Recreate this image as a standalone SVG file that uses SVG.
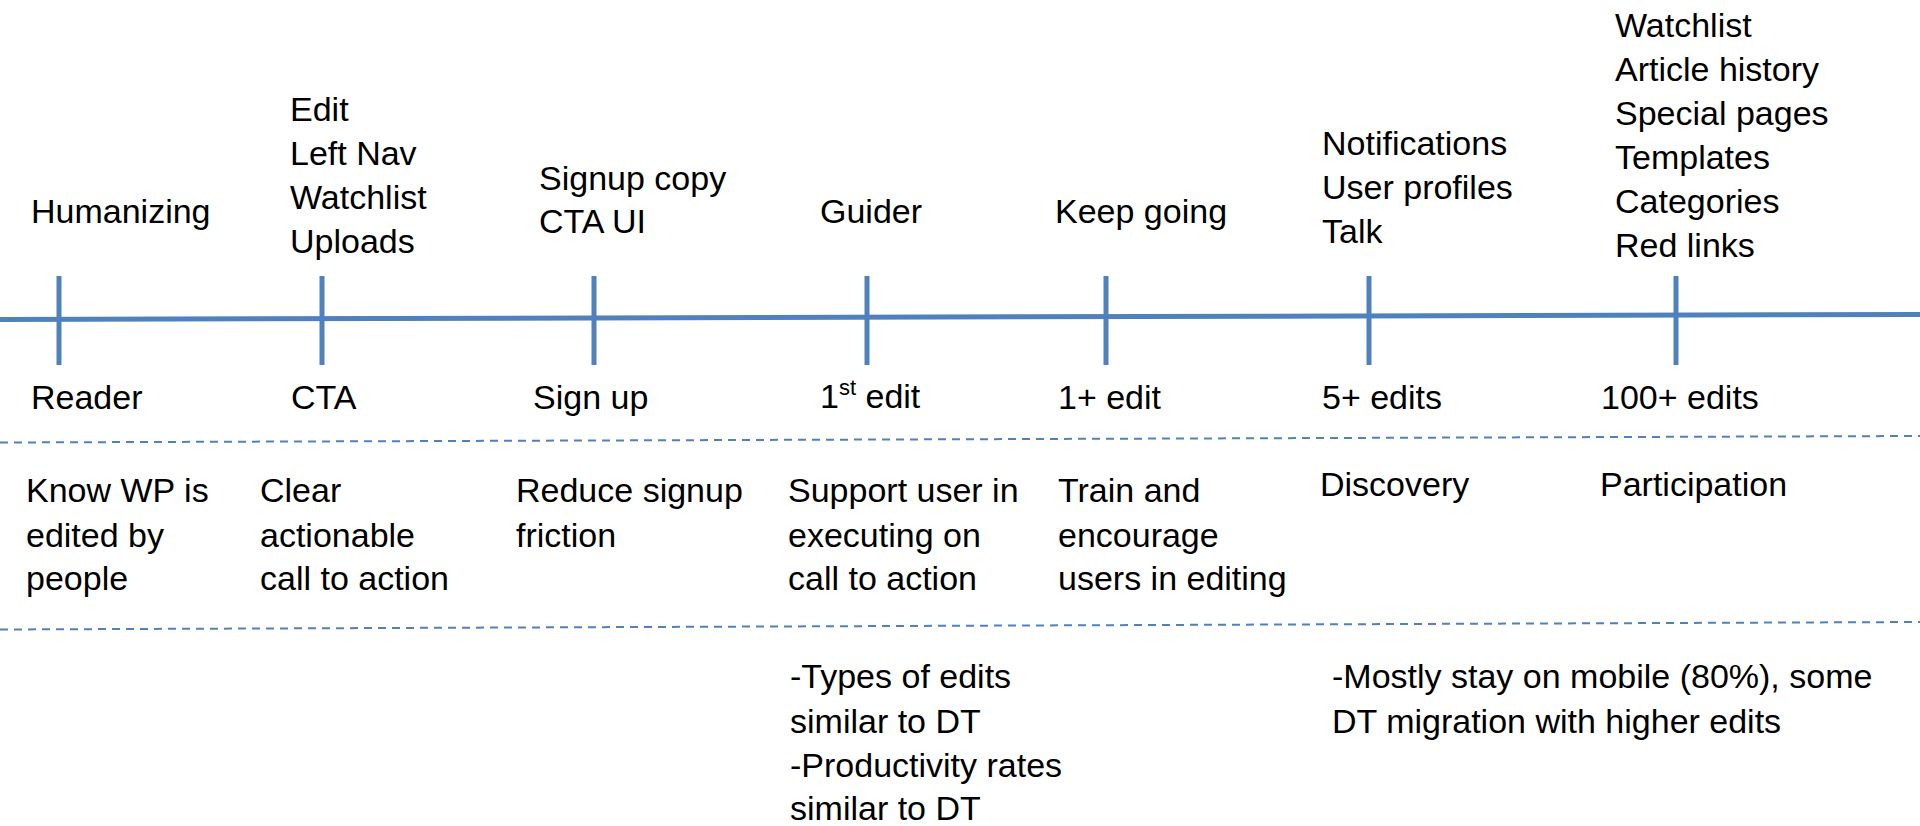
<svg xmlns="http://www.w3.org/2000/svg" width="1920" height="826" viewBox="0 0 1920 826">
<style>
text{font-family:"Liberation Sans",Arial,sans-serif;font-size:34px;fill:#000}
.axis{stroke:#4F81BD;stroke-width:5;fill:none}
.tick{stroke:#4F81BD;stroke-width:5;fill:none}
.dash{stroke:#4F81BD;stroke-width:2;stroke-dasharray:8 6;fill:none}
.sup{font-size:22px}
</style>
<rect width="1920" height="826" fill="#fff"/>
<g id="connectors">
<line class="axis" x1="0" y1="319.5" x2="1920" y2="314.5"/>
<line class="dash" x1="0" y1="442.5" x2="1920" y2="436"/>
<line class="dash" x1="0" y1="629.5" x2="1920" y2="622"/>
</g>
<g id="stage-reader">
<line class="tick" x1="59" y1="276" x2="59" y2="365"/>
<text x="31" y="223">Humanizing</text>
<text x="31" y="409">Reader</text>
<text x="26" y="502">Know WP is</text>
<text x="26" y="547">edited by</text>
<text x="26" y="590">people</text>
</g>
<g id="stage-cta">
<line class="tick" x1="322" y1="276" x2="322" y2="365"/>
<text x="290" y="121">Edit</text>
<text x="290" y="165">Left Nav</text>
<text x="290" y="209">Watchlist</text>
<text x="290" y="253">Uploads</text>
<text x="291" y="409">CTA</text>
<text x="260" y="502">Clear</text>
<text x="260" y="547">actionable</text>
<text x="260" y="590">call to action</text>
</g>
<g id="stage-signup">
<line class="tick" x1="594" y1="276" x2="594" y2="365"/>
<text x="539" y="190">Signup copy</text>
<text x="539" y="233">CTA UI</text>
<text x="533" y="409">Sign up</text>
<text x="516" y="502">Reduce signup</text>
<text x="516" y="547">friction</text>
</g>
<g id="stage-first-edit">
<line class="tick" x1="867" y1="276" x2="867" y2="365"/>
<text x="820" y="223">Guider</text>
<text x="820" y="408">1<tspan class="sup" dy="-13">st</tspan><tspan dy="13"> edit</tspan></text>
<text x="788" y="502">Support user in</text>
<text x="788" y="547">executing on</text>
<text x="788" y="590">call to action</text>
<text x="790" y="688">-Types of edits</text>
<text x="790" y="733">similar to DT</text>
<text x="790" y="777">-Productivity rates</text>
<text x="790" y="820">similar to DT</text>
</g>
<g id="stage-one-plus">
<line class="tick" x1="1106" y1="276" x2="1106" y2="365"/>
<text x="1055" y="223">Keep going</text>
<text x="1058" y="409">1+ edit</text>
<text x="1058" y="502">Train and</text>
<text x="1058" y="547">encourage</text>
<text x="1058" y="590">users in editing</text>
</g>
<g id="stage-five-plus">
<line class="tick" x1="1369" y1="276" x2="1369" y2="365"/>
<text x="1322" y="155">Notifications</text>
<text x="1322" y="199">User profiles</text>
<text x="1322" y="243">Talk</text>
<text x="1322" y="409">5+ edits</text>
<text x="1320" y="496">Discovery</text>
<text x="1332" y="688">-Mostly stay on mobile (80%), some</text>
<text x="1332" y="733">DT migration with higher edits</text>
</g>
<g id="stage-hundred-plus">
<line class="tick" x1="1676" y1="276" x2="1676" y2="365"/>
<text x="1615" y="37">Watchlist</text>
<text x="1615" y="81">Article history</text>
<text x="1615" y="125">Special pages</text>
<text x="1615" y="169">Templates</text>
<text x="1615" y="213">Categories</text>
<text x="1615" y="257">Red links</text>
<text x="1601" y="409">100+ edits</text>
<text x="1600" y="496">Participation</text>
</g>
</svg>
